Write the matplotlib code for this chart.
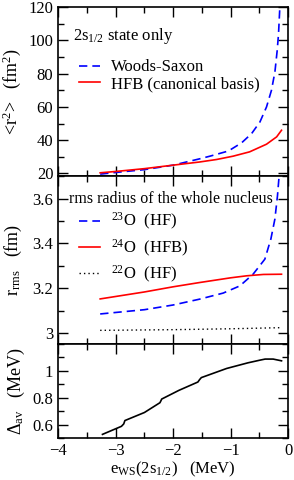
import matplotlib
matplotlib.use('Agg')
import matplotlib.pyplot as plt
from matplotlib.ticker import MultipleLocator, FormatStrFormatter

plt.rcParams['font.family'] = 'Liberation Serif'
plt.rcParams['mathtext.fontset'] = 'custom'
plt.rcParams['mathtext.rm'] = 'Liberation Serif'
plt.rcParams['mathtext.it'] = 'Liberation Serif:italic'
plt.rcParams['font.size'] = 12

# top panel: <r^2> of the 2s1/2 state
x_ws = [-3.27, -3.0, -2.5, -2.0, -1.54, -1.36, -1.04, -0.81, -0.635, -0.49, -0.376, -0.29, -0.23, -0.19, -0.167, -0.144]
r2_ws = [19.6, 20.6, 22.3, 25.0, 28.8, 30.4, 33.5, 38.4, 44.0, 51.0, 60.0, 70.0, 81.0, 94.0, 104.0, 120.0]
x_hfb = [-3.27, -3.0, -2.5, -2.0, -1.54, -1.245, -0.957, -0.67, -0.376, -0.2, -0.115]
r2_hfb = [20.4, 21.2, 22.9, 25.0, 26.9, 28.4, 30.4, 33.0, 37.6, 42.0, 46.0]

# middle panel: rms radius of the whole nucleus
x_23 = [-3.27, -2.5, -2.0, -1.54, -1.13, -0.84, -0.61, -0.405, -0.30, -0.23, -0.185, -0.157]
rms_23 = [3.086, 3.105, 3.126, 3.152, 3.179, 3.211, 3.263, 3.33, 3.42, 3.509, 3.613, 3.70]
x_24 = [-3.27, -2.5, -2.0, -1.54, -1.0, -0.72, -0.43, -0.115]
rms_24 = [3.153, 3.184, 3.207, 3.226, 3.247, 3.256, 3.262, 3.263]
x_22 = [-3.27, -2.0, -1.0, -0.115]
rms_22 = [3.013, 3.016, 3.020, 3.025]

# bottom panel: average pairing gap
x_gap = [-3.23, -2.9, -2.86, -2.84, -2.5, -2.23, -2.21, -2.2, -1.9, -1.57, -1.54, -1.51, -1.07, -0.7, -0.49, -0.4, -0.26, -0.115]
gap = [0.527, 0.587, 0.605, 0.63, 0.69, 0.763, 0.78, 0.79, 0.855, 0.917, 0.935, 0.95, 1.018, 1.06, 1.08, 1.088, 1.088, 1.075]

fig = plt.figure(figsize=(2.94, 4.8), dpi=100)
gs = fig.add_gridspec(3, 1, height_ratios=[169, 168, 94], hspace=0,
                      left=0.198, right=0.98, top=0.985, bottom=0.0875)
ax1 = fig.add_subplot(gs[0])
ax2 = fig.add_subplot(gs[1], sharex=ax1)
ax3 = fig.add_subplot(gs[2], sharex=ax1)

leg_kw = dict(loc='upper left', frameon=False, handlelength=1.25, handletextpad=0.65,
              borderaxespad=0, borderpad=0.4, fontsize=12)

ax1.plot(x_ws, r2_ws, color='blue', lw=1.2, dashes=(5, 3), label='Woods-Saxon')
ax1.plot(x_hfb, r2_hfb, color='red', lw=1.2, label='HFB (canonical basis)')
ax1.set_ylim(18.4, 120)
ax1.yaxis.set_major_locator(MultipleLocator(20))
ax1.yaxis.set_minor_locator(MultipleLocator(10))
ax1.set_ylabel(r'<r$^2$>   (fm$^2$)', labelpad=4, fontsize=13)
ax1.text(0.065, 0.805, r'2s$_{1/2}$ state only', transform=ax1.transAxes, fontsize=12)
ax1.legend(bbox_to_anchor=(0.062, 0.73), labelspacing=0.05, **leg_kw)

ax2.plot(x_23, rms_23, color='blue', lw=1.2, dashes=(5, 3), label=r'$^{23}$O  (HF)')
ax2.plot(x_24, rms_24, color='red', lw=1.2, label=r'$^{24}$O  (HFB)')
ax2.plot(x_22, rms_22, color='black', lw=1.0, linestyle=(0, (1, 2.2)), label=r'$^{22}$O  (HF)')
ax2.set_ylim(2.952, 3.7)
ax2.yaxis.set_major_locator(MultipleLocator(0.2))
ax2.yaxis.set_minor_locator(MultipleLocator(0.1))
ax2.yaxis.set_major_formatter(FormatStrFormatter('%g'))
ax2.set_ylabel(r'r$_{\rm rms}$   (fm)', labelpad=6, fontsize=13)
ax2.text(0.045, 0.838, 'rms radius of the whole nucleus', transform=ax2.transAxes, fontsize=11.5)
ax2.legend(bbox_to_anchor=(0.062, 0.83), labelspacing=0.3, **leg_kw)

ax3.plot(x_gap, gap, color='black', lw=1.2)
ax3.set_ylim(0.5, 1.2)
ax3.set_yticks([0.6, 0.8, 1.0])
ax3.yaxis.set_minor_locator(MultipleLocator(0.1))
ax3.yaxis.set_major_formatter(FormatStrFormatter('%g'))
ax3.set_ylabel(r'$\Delta_{\rm av}$   (MeV)', labelpad=4, fontsize=13)
ax3.set_xlabel(r'e$_{\rm WS}$(2s$_{1/2}$)   (MeV)', labelpad=1)

ax1.set_xlim(-4, 0)
ax1.xaxis.set_major_locator(MultipleLocator(1))
ax1.xaxis.set_minor_locator(MultipleLocator(0.5))

for ax in (ax1, ax2, ax3):
    ax.tick_params(which='both', direction='in', top=True, right=True, labelsize=12)
    ax.tick_params(which='major', length=7, width=1)
    ax.tick_params(which='minor', length=4, width=1)
    for s in ax.spines.values():
        s.set_linewidth(1.2)
for ax in (ax1, ax2):
    ax.tick_params(labelbottom=False)

fig.savefig('out.png', dpi=100)
